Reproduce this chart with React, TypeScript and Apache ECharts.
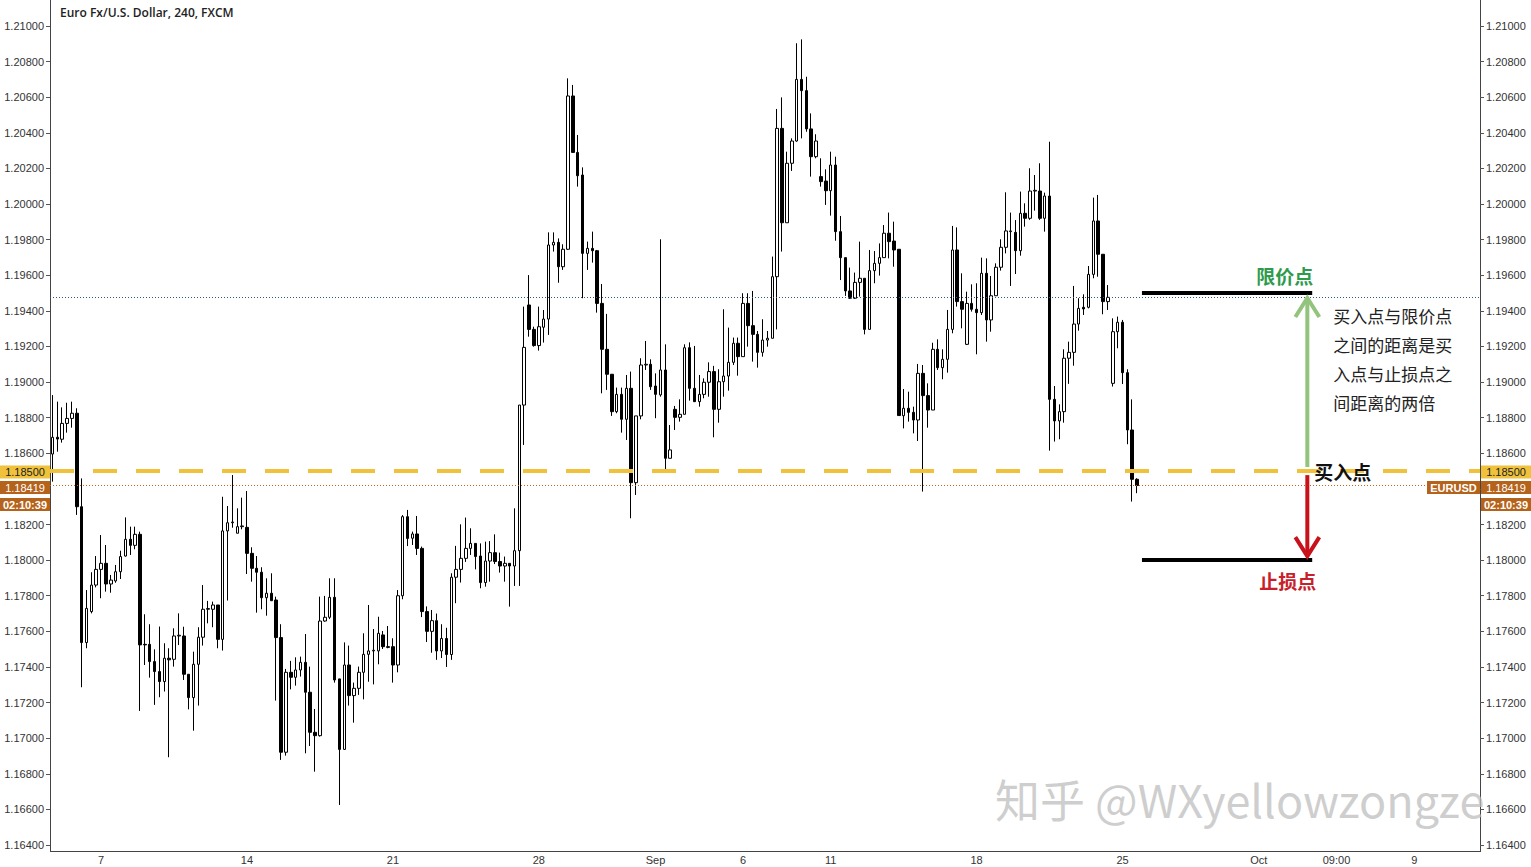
import React, { useEffect, useRef } from 'react';
import * as echarts from 'echarts';

const title = 'Euro Fx/U.S. Dollar, 240, FXCM';
const symbolName = 'EURUSD';
const countdown = '02:10:39';

// each candle: [open, close, low, high]
const candles: number[][] = [
  [1.18596, 1.1869, 1.18441, 1.18927], [1.1869, 1.1868, 1.18609, 1.1889], [1.18679, 1.18768, 1.1866, 1.18858],
  [1.18768, 1.18796, 1.18716, 1.18884], [1.18796, 1.18825, 1.18744, 1.1889], [1.18825, 1.183, 1.18254, 1.18853],
  [1.183, 1.17537, 1.17286, 1.18459], [1.17537, 1.17729, 1.17505, 1.17832], [1.17711, 1.1786, 1.17701, 1.17932],
  [1.1786, 1.17948, 1.17847, 1.18023], [1.17948, 1.17982, 1.17786, 1.18141], [1.17982, 1.17866, 1.17823, 1.18085],
  [1.17866, 1.17888, 1.17817, 1.17917], [1.17883, 1.17935, 1.17873, 1.17973], [1.17935, 1.1802, 1.17894, 1.18053],
  [1.18023, 1.18117, 1.1802, 1.1824], [1.18117, 1.18083, 1.18029, 1.18188], [1.18083, 1.18145, 1.18061, 1.18188],
  [1.18145, 1.17524, 1.17153, 1.1816], [1.17527, 1.17524, 1.17411, 1.17696], [1.17527, 1.1743, 1.1734, 1.1764],
  [1.1743, 1.17374, 1.17187, 1.17499], [1.17374, 1.17318, 1.1723, 1.17627], [1.17318, 1.17449, 1.17262, 1.17533],
  [1.17449, 1.1744, 1.16893, 1.17505], [1.17443, 1.17574, 1.17402, 1.17617], [1.17574, 1.17578, 1.17523, 1.17701],
  [1.17574, 1.17359, 1.17327, 1.17626], [1.17359, 1.17228, 1.17162, 1.17359], [1.17228, 1.17415, 1.17042, 1.17486],
  [1.17415, 1.17567, 1.17183, 1.17623], [1.17567, 1.17724, 1.1752, 1.1786], [1.17724, 1.17728, 1.17645, 1.17771],
  [1.17724, 1.17748, 1.17623, 1.17767], [1.17748, 1.17555, 1.17505, 1.17748], [1.17555, 1.18164, 1.17492, 1.18356],
  [1.18164, 1.1821, 1.17773, 1.18304], [1.1821, 1.18214, 1.18182, 1.18478], [1.18151, 1.18188, 1.18151, 1.18291],
  [1.18188, 1.18192, 1.18173, 1.18351], [1.18184, 1.18038, 1.17922, 1.18388], [1.18038, 1.17954, 1.17879, 1.18072],
  [1.17954, 1.17932, 1.17705, 1.18023], [1.17932, 1.17789, 1.17724, 1.1796], [1.17789, 1.17814, 1.17688, 1.17898],
  [1.17814, 1.17772, 1.17772, 1.17926], [1.17776, 1.17565, 1.17211, 1.17795], [1.17565, 1.16921, 1.16878, 1.1764],
  [1.16921, 1.1737, 1.16902, 1.17389], [1.1737, 1.17342, 1.17274, 1.17434], [1.17342, 1.17383, 1.17295, 1.17454],
  [1.17383, 1.17426, 1.17346, 1.17458], [1.17426, 1.17258, 1.16915, 1.17585], [1.17258, 1.17033, 1.16956, 1.17402],
  [1.17033, 1.17014, 1.16812, 1.17164], [1.17014, 1.17658, 1.17009, 1.17795], [1.17658, 1.17679, 1.17654, 1.17799],
  [1.17679, 1.17791, 1.17669, 1.17898], [1.17791, 1.17327, 1.17312, 1.17898], [1.17333, 1.16937, 1.16625, 1.17333],
  [1.16937, 1.17411, 1.16934, 1.17538], [1.17411, 1.17239, 1.17183, 1.1752], [1.17239, 1.1728, 1.17087, 1.17312],
  [1.1728, 1.1737, 1.17243, 1.17402], [1.1737, 1.17471, 1.17218, 1.17589], [1.17471, 1.1749, 1.17317, 1.17748],
  [1.1749, 1.17494, 1.17302, 1.17613], [1.1749, 1.17589, 1.17415, 1.17682], [1.1758, 1.17514, 1.17501, 1.17602],
  [1.17514, 1.1751, 1.17505, 1.1763], [1.17514, 1.17411, 1.17312, 1.17561], [1.17411, 1.178, 1.1737, 1.17832],
  [1.178, 1.18244, 1.1778, 1.18253], [1.18244, 1.18122, 1.18079, 1.18282], [1.18123, 1.18147, 1.18085, 1.1816],
  [1.18147, 1.18066, 1.18029, 1.18248], [1.18066, 1.17711, 1.1768, 1.18076], [1.17711, 1.176, 1.1754, 1.1774],
  [1.176, 1.1766, 1.1748, 1.1772], [1.1766, 1.1749, 1.1744, 1.177], [1.1749, 1.1756, 1.1745, 1.1764],
  [1.1756, 1.1747, 1.174, 1.1762], [1.1747, 1.17904, 1.1744, 1.17926], [1.17904, 1.17948, 1.17758, 1.1808],
  [1.17948, 1.1801, 1.17874, 1.18201], [1.1801, 1.18066, 1.1799, 1.18239], [1.18066, 1.18094, 1.18029, 1.18179],
  [1.18094, 1.1802, 1.17948, 1.18094], [1.18023, 1.17874, 1.17842, 1.18094], [1.17874, 1.17995, 1.17851, 1.18104],
  [1.17995, 1.18042, 1.17879, 1.18107], [1.18042, 1.17992, 1.17978, 1.18145], [1.17992, 1.17967, 1.1793, 1.18042],
  [1.17967, 1.17982, 1.17879, 1.1802], [1.17982, 1.17967, 1.17739, 1.17982], [1.17967, 1.18053, 1.17855, 1.18291],
  [1.18053, 1.18871, 1.17855, 1.18871], [1.18871, 1.19195, 1.18647, 1.19424], [1.19433, 1.19296, 1.19255, 1.19601],
  [1.19296, 1.19205, 1.19199, 1.19311], [1.19205, 1.19311, 1.19177, 1.19424], [1.19308, 1.19354, 1.19222, 1.19405],
  [1.19354, 1.1977, 1.19265, 1.19841], [1.1977, 1.19785, 1.19733, 1.19841], [1.19785, 1.19648, 1.19558, 1.19807],
  [1.19648, 1.19746, 1.1963, 1.19774], [1.19746, 1.20607, 1.19742, 1.20706], [1.20607, 1.2029, 1.2029, 1.20669],
  [1.2029, 1.20159, 1.20098, 1.20388], [1.20163, 1.19723, 1.19471, 1.20206], [1.19723, 1.19751, 1.1963, 1.19789],
  [1.19751, 1.19738, 1.19671, 1.19845], [1.19738, 1.19442, 1.1939, 1.19742], [1.19442, 1.19184, 1.18937, 1.19551],
  [1.19184, 1.19044, 1.18956, 1.19383], [1.19044, 1.18834, 1.1881, 1.19044], [1.18834, 1.18931, 1.18825, 1.18969],
  [1.18931, 1.18791, 1.18716, 1.18969], [1.18791, 1.18965, 1.18675, 1.1904], [1.18965, 1.18435, 1.18235, 1.19059],
  [1.18435, 1.1881, 1.18366, 1.1881], [1.1881, 1.19096, 1.18791, 1.19134], [1.19096, 1.191, 1.19068, 1.19231],
  [1.191, 1.18974, 1.18956, 1.19128], [1.18978, 1.18931, 1.18797, 1.19049], [1.18928, 1.19068, 1.18918, 1.19802],
  [1.19068, 1.18572, 1.18497, 1.19212], [1.18572, 1.18619, 1.18572, 1.18759], [1.18847, 1.18802, 1.18731, 1.18866],
  [1.18802, 1.18819, 1.18778, 1.18903], [1.18819, 1.19193, 1.18819, 1.19212], [1.19193, 1.18965, 1.18896, 1.19223],
  [1.18965, 1.1889, 1.1889, 1.19203], [1.1889, 1.18931, 1.18862, 1.1904], [1.18931, 1.18999, 1.18909, 1.19021],
  [1.18999, 1.19059, 1.18918, 1.19111], [1.19059, 1.18847, 1.1869, 1.19091], [1.18847, 1.19002, 1.18772, 1.19072],
  [1.19002, 1.19034, 1.18918, 1.19409], [1.19034, 1.19111, 1.18952, 1.19306], [1.19111, 1.19218, 1.19096, 1.1925],
  [1.19218, 1.19143, 1.19036, 1.1925], [1.19143, 1.19442, 1.19143, 1.19499], [1.19442, 1.19317, 1.19199, 1.19499],
  [1.19317, 1.19268, 1.19115, 1.19512], [1.19268, 1.19167, 1.19081, 1.19287], [1.19167, 1.19236, 1.19143, 1.19353],
  [1.19236, 1.19246, 1.19199, 1.19287], [1.19246, 1.19592, 1.19246, 1.19705], [1.19592, 1.20425, 1.19296, 1.20534],
  [1.20425, 1.19895, 1.19733, 1.20599], [1.19895, 1.20229, 1.19895, 1.20294], [1.20229, 1.20354, 1.20186, 1.20369],
  [1.20354, 1.207, 1.2035, 1.20903], [1.207, 1.20637, 1.20369, 1.20925], [1.20637, 1.20422, 1.20406, 1.20715],
  [1.20422, 1.20266, 1.20154, 1.20509], [1.20266, 1.20354, 1.20257, 1.20392], [1.20154, 1.20126, 1.20098, 1.20257],
  [1.20129, 1.20075, 1.19995, 1.20195], [1.20075, 1.20219, 1.19935, 1.20294], [1.20219, 1.19845, 1.19794, 1.20266],
  [1.19845, 1.19699, 1.19573, 1.19933], [1.19699, 1.19512, 1.19484, 1.19699], [1.19512, 1.19471, 1.19467, 1.19643],
  [1.19471, 1.1956, 1.19467, 1.19615], [1.1956, 1.19583, 1.1948, 1.19789], [1.19583, 1.19296, 1.19268, 1.19583],
  [1.19296, 1.19626, 1.19296, 1.19742], [1.19626, 1.19667, 1.19555, 1.19736], [1.19667, 1.19699, 1.19598, 1.19779],
  [1.19699, 1.19836, 1.19699, 1.19882], [1.19836, 1.19789, 1.19695, 1.19952], [1.19792, 1.19742, 1.19648, 1.19901],
  [1.19746, 1.18812, 1.18812, 1.19746], [1.18811, 1.18853, 1.1874, 1.18961], [1.18853, 1.1883, 1.18778, 1.18946],
  [1.1883, 1.18787, 1.18712, 1.18862], [1.18787, 1.19049, 1.18669, 1.19102], [1.19049, 1.18924, 1.18385, 1.19096],
  [1.18924, 1.18843, 1.18744, 1.18993], [1.18843, 1.19184, 1.18843, 1.19221], [1.19184, 1.19081, 1.19068, 1.1924],
  [1.19081, 1.19128, 1.19016, 1.19184], [1.19128, 1.19296, 1.19053, 1.19405], [1.19296, 1.19742, 1.19274, 1.19877],
  [1.19742, 1.19452, 1.19424, 1.19869], [1.19452, 1.19409, 1.19302, 1.19611], [1.19212, 1.19442, 1.19208, 1.19508],
  [1.19442, 1.19409, 1.19396, 1.19549], [1.19409, 1.1939, 1.19156, 1.19555], [1.1939, 1.19611, 1.19377, 1.19699],
  [1.19611, 1.19349, 1.19227, 1.19695], [1.19349, 1.19485, 1.19283, 1.19596], [1.19485, 1.19645, 1.19485, 1.19667],
  [1.19645, 1.19757, 1.19626, 1.19802], [1.19757, 1.19849, 1.19723, 1.20066], [1.19845, 1.19849, 1.1954, 1.19952],
  [1.19841, 1.19738, 1.19607, 1.1991], [1.19738, 1.19948, 1.1971, 1.2007], [1.19948, 1.1992, 1.19873, 1.20004],
  [1.1992, 1.20073, 1.19911, 1.20201], [1.20073, 1.20077, 1.19963, 1.20163], [1.20073, 1.1992, 1.19911, 1.20229],
  [1.1992, 1.20045, 1.19845, 1.20064], [1.20045, 1.18903, 1.18615, 1.2035], [1.18903, 1.18782, 1.18666, 1.18978],
  [1.18782, 1.18834, 1.18679, 1.18875], [1.18834, 1.19134, 1.18772, 1.19184], [1.19134, 1.19167, 1.1899, 1.19227],
  [1.19167, 1.19326, 1.19092, 1.1954], [1.19326, 1.19414, 1.19289, 1.19471], [1.1942, 1.19411, 1.19377, 1.19493],
  [1.1942, 1.19605, 1.19414, 1.19652], [1.19605, 1.19905, 1.19583, 1.20036], [1.19905, 1.19718, 1.19592, 1.20051],
  [1.19718, 1.19452, 1.19381, 1.19718], [1.19452, 1.19476, 1.19405, 1.19545], [1.18993, 1.19283, 1.18975, 1.19358],
  [1.19283, 1.19336, 1.1919, 1.19368], [1.19336, 1.19053, 1.18989, 1.19349], [1.19053, 1.18731, 1.18651, 1.19072],
  [1.18731, 1.18454, 1.18329, 1.18903], [1.18454, 1.18419, 1.18376, 1.1846],
];

const totalBars = 294;
const dateLabelBars = [10, 40, 70, 100, 124, 142, 160, 190, 220, 248, 264, 280];
const dateLabelTexts = ['7', '14', '21', '28', 'Sep', '6', '11', '18', '25', 'Oct', '09:00', '9'];

const priceMin = 1.164;
const priceMax = 1.21;
const priceStep = 0.002;

const entryPrice = 1.185;
const lastPrice = 1.18419;
const blueLinePrice = 1.19478;
const limitPrice = 1.195;
const stopPrice = 1.18;
const planStartBar = 224;
const planEndBar = 259;
const arrowBar = 258;
const limitLabel = '限价点';
const stopLabel = '止损点';
const entryLabel = '买入点';
const noteLines = ['买入点与限价点', '之间的距离是买', '入点与止损点之', '间距离的两倍'];
const watermark = '知乎 @WXyellowzongze';

const BROWN = '#b5621b';
const YELLOW = '#f0c23c';
const AXIS_FONT = 'Liberation Sans, Arial, sans-serif';

export default function App() {
  const ref = useRef<HTMLDivElement>(null);

  useEffect(() => {
    const chart = echarts.init(ref.current!, undefined, { renderer: 'svg' });
    const cats = Array.from({ length: totalBars }, (_, i) => String(i));
    const labelMap: Record<number, string> = {};
    dateLabelBars.forEach((b, k) => (labelMap[b] = dateLabelTexts[k]));

    const yAxisBase = (position: 'left' | 'right') => ({
      type: 'value',
      position,
      min: priceMin,
      max: priceMax,
      interval: priceStep,
      scale: true,
      axisLine: { show: false },
      axisTick: { show: true, length: 4, lineStyle: { color: '#555' } },
      splitLine: { show: false },
      axisLabel: {
        color: '#333',
        fontSize: 11,
        fontFamily: AXIS_FONT,
        margin: 6,
        formatter: (v: number) => v.toFixed(5),
      },
    });

    chart.setOption({
      animation: false,
      backgroundColor: '#ffffff',
      grid: { left: 50, right: 51, top: 26, bottom: 22 },
      xAxis: {
        type: 'category',
        data: cats,
        boundaryGap: true,
        axisLine: { show: false },
        axisTick: { show: false },
        splitLine: { show: false },
        axisLabel: {
          interval: 0,
          margin: 9,
          color: '#333',
          fontSize: 11,
          fontFamily: AXIS_FONT,
          formatter: (_v: string, i: number) => labelMap[i] ?? '',
        },
      },
      yAxis: [yAxisBase('left'), yAxisBase('right')],
      series: [
        {
          type: 'candlestick',
          data: candles,
          barWidth: 3,
          itemStyle: {
            color: '#ffffff',
            color0: '#000000',
            borderColor: '#000000',
            borderColor0: '#000000',
            borderWidth: 1,
          },
          markLine: {
            silent: true,
            symbol: 'none',
            precision: 6,
            label: { show: false },
            animation: false,
            data: [
              { yAxis: blueLinePrice, lineStyle: { color: '#2c5a86', type: [1, 2], width: 1 } },
              { yAxis: lastPrice, lineStyle: { color: '#c0661c', type: [1, 2], width: 1 } },
              { yAxis: entryPrice, lineStyle: { color: YELLOW, type: [24, 19], width: 4 } },
              [
                { coord: [planStartBar, limitPrice], lineStyle: { color: '#000', type: 'solid', width: 4 } },
                { coord: [planEndBar, limitPrice] },
              ],
              [
                { coord: [planStartBar, stopPrice], lineStyle: { color: '#000', type: 'solid', width: 4 } },
                { coord: [planEndBar, stopPrice] },
              ],
            ],
          },
        },
      ],
    });

    const P = (i: number, v: number) =>
      chart.convertToPixel({ xAxisIndex: 0, yAxisIndex: 0 }, [i, v]) as number[];

    const [ax] = P(arrowBar, entryPrice);
    const yEntry = P(0, entryPrice)[1];
    const yBlue = P(0, blueLinePrice)[1];
    const yStop = P(0, stopPrice)[1];
    const yLimit = P(0, limitPrice)[1];
    const [segEnd] = P(planEndBar, limitPrice);

    const tag = (x: number, cy: number, w: number, text: string, bg: string, fg: string, bold = false) => ({
      type: 'group',
      z: 200,
      children: [
        { type: 'rect', shape: { x, y: cy - 6.5, width: w, height: 13 }, style: { fill: bg }, z: 200 },
        {
          type: 'text',
          x: x + w / 2,
          y: cy,
          z: 201,
          style: {
            text,
            fill: fg,
            font: `${bold ? 'bold ' : ''}11px ${AXIS_FONT}`,
            textAlign: 'center',
            textVerticalAlign: 'middle',
          },
        },
      ],
    });

    const cy1 = yEntry + 1;
    const cy2 = cy1 + 15.5;
    const cy3 = cy2 + 17;

    const green = '#92c47d';
    const red = '#c8111a';

    chart.setOption({
      graphic: [
        { type: 'line', shape: { x1: 50.5, y1: 0, x2: 50.5, y2: 851 }, style: { stroke: '#444', lineWidth: 1 } },
        { type: 'line', shape: { x1: 1480.5, y1: 0, x2: 1480.5, y2: 851 }, style: { stroke: '#444', lineWidth: 1 } },
        { type: 'line', shape: { x1: 50, y1: 851.5, x2: 1481, y2: 851.5 }, style: { stroke: '#444', lineWidth: 1 } },
        {
          type: 'text',
          x: 60,
          y: 12,
          style: {
            text: title,
            fill: '#222',
            font: '600 12px "Open Sans", sans-serif',
            textVerticalAlign: 'middle',
          },
        },
        tag(1481, cy1, 50, entryPrice.toFixed(5), YELLOW, '#222'),
        tag(1481, cy2, 50, lastPrice.toFixed(5), BROWN, '#fff'),
        tag(1481, cy3, 50, countdown, BROWN, '#fff', true),
        tag(0, cy1, 50, entryPrice.toFixed(5), YELLOW, '#222'),
        tag(0, cy2, 50, lastPrice.toFixed(5), BROWN, '#fff'),
        tag(0, cy3, 50, countdown, BROWN, '#fff', true),
        tag(1427, cy2, 53, symbolName, BROWN, '#fff', true),
        {
          type: 'polyline',
          shape: { points: [[ax, yEntry - 4], [ax, yBlue + 2]] },
          style: { stroke: green, lineWidth: 4, fill: 'none' },
          z: 150,
        },
        {
          type: 'polyline',
          shape: { points: [[ax - 12, yBlue + 20], [ax, yBlue + 1], [ax + 12, yBlue + 20]] },
          style: { stroke: green, lineWidth: 4, fill: 'none' },
          z: 150,
        },
        {
          type: 'polyline',
          shape: { points: [[ax, yEntry + 4], [ax, yStop - 4]] },
          style: { stroke: red, lineWidth: 4, fill: 'none' },
          z: 150,
        },
        {
          type: 'polyline',
          shape: { points: [[ax - 12, yStop - 23], [ax, yStop - 4], [ax + 12, yStop - 23]] },
          style: { stroke: red, lineWidth: 4, fill: 'none' },
          z: 150,
        },
        {
          type: 'text',
          x: segEnd + 1,
          y: yLimit - 18,
          z: 160,
          style: {
            text: limitLabel,
            fill: '#2e9a4c',
            font: 'bold 19px "Noto Sans CJK SC", sans-serif',
            textAlign: 'right',
            textVerticalAlign: 'middle',
          },
        },
        {
          type: 'text',
          x: segEnd + 4,
          y: yStop + 20,
          z: 160,
          style: {
            text: stopLabel,
            fill: '#c8202a',
            font: 'bold 19px "Noto Sans CJK SC", sans-serif',
            textAlign: 'right',
            textVerticalAlign: 'middle',
          },
        },
        {
          type: 'text',
          x: ax + 7,
          y: yEntry,
          z: 160,
          style: {
            text: entryLabel,
            fill: '#111',
            font: 'bold 19px "Noto Sans CJK SC", sans-serif',
            textAlign: 'left',
            textVerticalAlign: 'middle',
          },
        },
        {
          type: 'text',
          x: ax + 26,
          y: yLimit + 8,
          z: 160,
          style: {
            text: noteLines.join('\n'),
            fill: '#222',
            font: '17px "Noto Sans CJK SC", sans-serif',
            lineHeight: 29,
            textAlign: 'left',
            textVerticalAlign: 'top',
          },
        },
        {
          type: 'text',
          x: 995,
          y: 798,
          z: 170,
          style: {
            text: watermark,
            fill: 'rgba(190,190,190,0.75)',
            font: '45px "Noto Sans CJK SC", sans-serif',
            textAlign: 'left',
            textVerticalAlign: 'middle',
          },
        },
      ],
    });

    return () => chart.dispose();
  }, []);

  return (
    <div
      ref={ref}
      style={{ position: 'fixed', left: 0, top: 0, width: 1531, height: 867, background: '#fff' }}
    />
  );
}
